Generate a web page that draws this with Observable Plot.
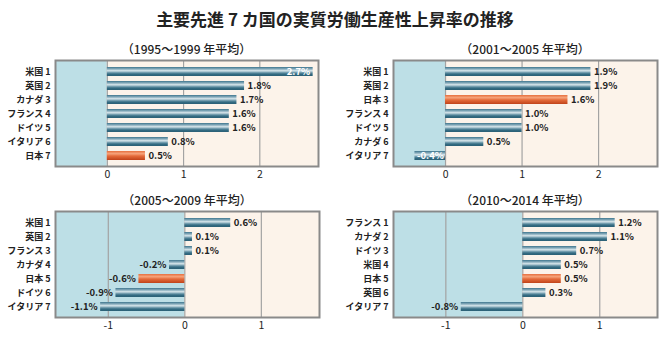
<!DOCTYPE html>
<html><head><meta charset="utf-8">
<script src="https://cdn.jsdelivr.net/npm/d3@7"></script>
<script src="https://cdn.jsdelivr.net/npm/@observablehq/plot@0.6"></script>
<style>
body{margin:0;background:#fff;font-family:"Noto Sans CJK JP","Noto Sans",sans-serif;}
#wrap{position:relative;width:670px;height:337px;overflow:hidden;}
.t{position:absolute;white-space:nowrap;color:#222;}
#main{left:0;width:670px;text-align:center;top:6px;font-size:17px;font-weight:700;}
.pt{font-size:12px;font-weight:500;transform:translateX(-50%);}
.pl{position:absolute;}
</style></head>
<body>
<div id="wrap">
<svg width="0" height="0" style="position:absolute">
<defs>
<linearGradient id="gBlue" x1="0" y1="0" x2="0" y2="1">
<stop offset="0" stop-color="#3f768e"/>
<stop offset="0.22" stop-color="#86abbb"/>
<stop offset="0.42" stop-color="#d9e7ec"/>
<stop offset="0.58" stop-color="#7fa6b6"/>
<stop offset="0.78" stop-color="#346c83"/>
<stop offset="1" stop-color="#2a5f75"/>
</linearGradient>
<linearGradient id="gOrange" x1="0" y1="0" x2="0" y2="1">
<stop offset="0" stop-color="#e6703f"/>
<stop offset="0.3" stop-color="#f6a47b"/>
<stop offset="0.55" stop-color="#e56c3b"/>
<stop offset="1" stop-color="#c0431a"/>
</linearGradient>
</defs>
</svg>
<div id="main" class="t">主要先進 7 カ国の実質労働生産性上昇率の推移</div>
</div>
<script>
const title1 = "（1995～1999 年平均）";
const countries1 = ["米国","英国","カナダ","フランス","ドイツ","イタリア","日本"];
const values1 = [2.7,1.8,1.7,1.6,1.6,0.8,0.5];
const domain1 = [-0.68,2.77];
const ticks1 = [0,1,2];

const title2 = "（2001～2005 年平均）";
const countries2 = ["米国","英国","日本","フランス","ドイツ","カナダ","イタリア"];
const values2 = [1.9,1.9,1.6,1.0,1.0,0.5,-0.4];
const domain2 = [-0.68,2.77];
const ticks2 = [0,1,2];

const title3 = "（2005～2009 年平均）";
const countries3 = ["米国","英国","フランス","カナダ","日本","ドイツ","イタリア"];
const values3 = [0.6,0.1,0.1,-0.2,-0.6,-0.9,-1.1];
const domain3 = [-1.69,1.76];
const ticks3 = [-1,0,1];

const title4 = "（2010～2014 年平均）";
const countries4 = ["フランス","カナダ","ドイツ","米国","日本","英国","イタリア"];
const values4 = [1.2,1.1,0.7,0.5,0.5,0.3,-0.8];
const domain4 = [-1.68,1.75];
const ticks4 = [-1,0,1];

const highlight = "日本";
const wrap = document.getElementById("wrap");

function panel(title, countries, values, domain, ticks, left, top, mL, mR) {
  const data = countries.map((c, i) => ({label: `${c} ${i + 1}`, country: c, value: values[i]}));
  const [lo, hi] = domain;
  const room = 0.35;
  const inside = d => (d.value > 0 && hi - d.value < room) || (d.value < 0 && d.value - lo < room);
  const fmt = d => d.value.toFixed(1) + "%";
  const W = 335, H = 146, mT = 20, mB = 20;
  const plot = Plot.plot({
    width: W, height: H, marginTop: mT, marginBottom: mB, marginLeft: mL, marginRight: mR,
    style: {fontFamily: '"Noto Sans CJK JP", sans-serif', background: "transparent"},
    x: {domain, ticks, tickSize: 0, tickPadding: 4, label: null, tickFormat: d => String(d)},
    y: {domain: data.map(d => d.label), padding: 0.1, tickSize: 0, tickPadding: 5, label: null},
    marks: [
      Plot.rect([{a: lo, b: 0}], {x1: "a", x2: "b", fill: "#bddfe6"}),
      Plot.rect([{a: 0, b: hi}], {x1: "a", x2: "b", fill: "#fcf3ea"}),
      Plot.ruleX(ticks, {stroke: "#a3a3a3", strokeWidth: 1.2}),
      Plot.barX(data, {filter: d => d.country !== highlight, x: "value", y: "label", fill: "url(#gBlue)", insetTop: 2, insetBottom: 2}),
      Plot.barX(data, {filter: d => d.country === highlight, x: "value", y: "label", fill: "url(#gOrange)", insetTop: 2, insetBottom: 2}),
      Plot.text(data, {filter: d => !inside(d) && d.value >= 0, x: "value", y: "label", text: fmt, textAnchor: "start", dx: 3, fill: "#222", fontWeight: 700, fontSize: 9.5}),
      Plot.text(data, {filter: d => !inside(d) && d.value < 0, x: "value", y: "label", text: fmt, textAnchor: "end", dx: -3, fill: "#222", fontWeight: 700, fontSize: 9.5}),
      Plot.text(data, {filter: d => inside(d) && d.value >= 0, x: "value", y: "label", text: fmt, textAnchor: "end", dx: -3, fill: "#fff", fontWeight: 700, fontSize: 9.5}),
      Plot.text(data, {filter: d => inside(d) && d.value < 0, x: "value", y: "label", text: fmt, textAnchor: "start", dx: 2, fill: "#fff", fontWeight: 700, fontSize: 9.5}),
      Plot.frame({stroke: "#8a8a8a", strokeWidth: 2})
    ]
  });
  plot.classList.add("pl");
  plot.style.left = left + "px";
  plot.style.top = top + "px";
  plot.querySelectorAll('[aria-label="y-axis tick label"] text').forEach(t => {
    t.setAttribute("font-weight", "700");
    t.setAttribute("font-size", "9");
    t.setAttribute("fill", "#222");
  });
  plot.querySelectorAll('[aria-label="x-axis tick label"] text').forEach(t => {
    t.setAttribute("font-size", "10.5");
    t.setAttribute("fill", "#222");
  });
  wrap.appendChild(plot);
  const t = document.createElement("div");
  t.className = "t pt";
  t.textContent = title;
  t.style.left = (left + mL + (W - mL - mR) / 2) + "px";
  t.style.top = (top) + "px";
  wrap.appendChild(t);
}

panel(title1, countries1, values1, domain1, ticks1, 0, 40, 55, 17);
panel(title2, countries2, values2, domain2, ticks2, 335, 40, 58, 13);
panel(title3, countries3, values3, domain3, ticks3, 0, 191, 55, 16);
panel(title4, countries4, values4, domain4, ticks4, 335, 191, 58, 13);
</script>
</body></html>
